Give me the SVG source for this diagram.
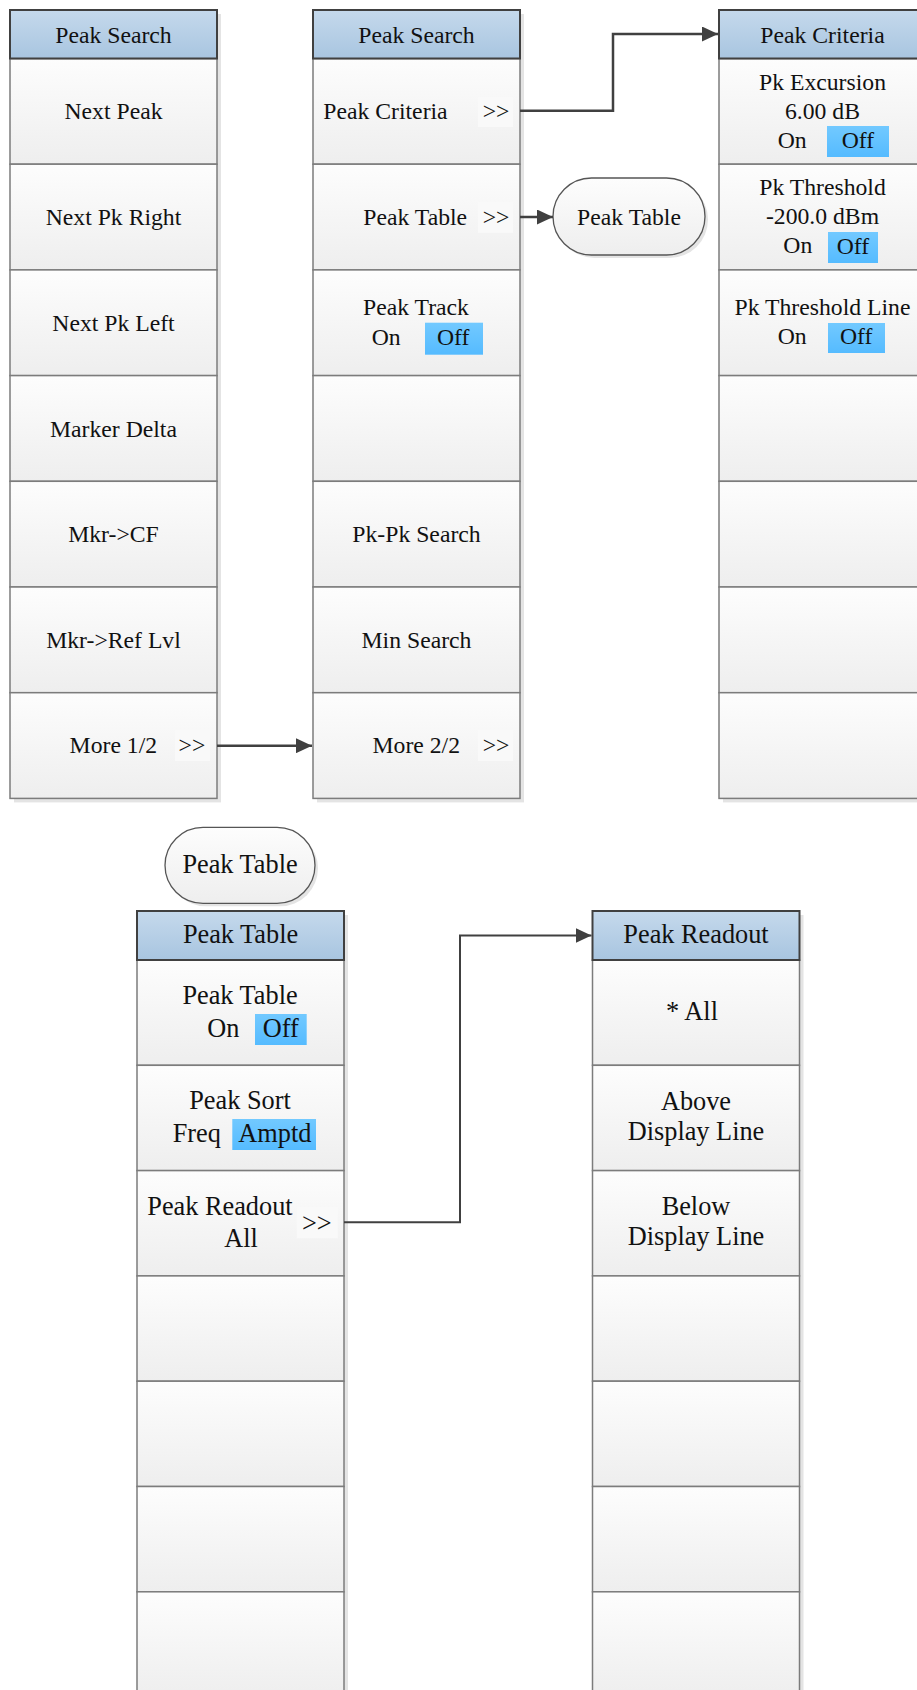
<svg xmlns="http://www.w3.org/2000/svg" width="917" height="1690" viewBox="0 0 917 1690">
<defs>
<linearGradient id="gCell" x1="0" y1="0" x2="0" y2="1"><stop offset="0" stop-color="#fdfdfd"/><stop offset="1" stop-color="#eeeeee"/></linearGradient>
<linearGradient id="gHead" x1="0" y1="0" x2="0" y2="1"><stop offset="0" stop-color="#c5d9ec"/><stop offset="1" stop-color="#a8c5e0"/></linearGradient>
<linearGradient id="gSel" x1="0" y1="0" x2="0" y2="1"><stop offset="0" stop-color="#72c9ff"/><stop offset="1" stop-color="#55bbff"/></linearGradient>
<marker id="arr" viewBox="0 0 16 15" refX="16" refY="7.5" markerWidth="16" markerHeight="15" markerUnits="userSpaceOnUse" orient="auto"><path d="M0,0 L16,7.5 L0,15 Z" fill="#404040"/></marker>
</defs>
<style>
.cell{fill:url(#gCell);stroke:#7c7c7c;stroke-width:1.5}
.head{fill:url(#gHead);stroke:#404040;stroke-width:2}
.shadow{fill:#e4e4e4}
.sel{fill:url(#gSel)}
.btn{fill:#f9f9f9}
.pill{fill:url(#gCell);stroke:#555;stroke-width:1.3}
text{font-family:"Liberation Serif","Times New Roman",serif;fill:#111}
.t{font-size:23.7px}
.b{font-size:26.3px}
.m{text-anchor:middle}
.conn{fill:none;stroke:#404040;stroke-width:2.5;marker-end:url(#arr)}
.conn2{fill:none;stroke:#404040;stroke-width:2;marker-end:url(#arr)}
</style>
<rect width="917" height="1690" fill="#ffffff"/>

<!-- Column A: Peak Search (1/2) -->
<g id="colA">
<rect class="shadow" x="14" y="14" width="207" height="788.4"/>
<rect class="cell" x="10" y="58.5" width="207" height="105.7"/>
<rect class="cell" x="10" y="164.2" width="207" height="105.7"/>
<rect class="cell" x="10" y="269.9" width="207" height="105.7"/>
<rect class="cell" x="10" y="375.6" width="207" height="105.7"/>
<rect class="cell" x="10" y="481.3" width="207" height="105.7"/>
<rect class="cell" x="10" y="587" width="207" height="105.7"/>
<rect class="cell" x="10" y="692.7" width="207" height="105.7"/>
<rect class="head" x="10" y="10" width="207" height="48.5"/>
<text class="t m" x="113.5" y="42.7">Peak Search</text>
<text class="t m" x="113.5" y="119">Next Peak</text>
<text class="t m" x="113.5" y="225">Next Pk Right</text>
<text class="t m" x="113.5" y="330.7">Next Pk Left</text>
<text class="t m" x="113.5" y="436.5">Marker Delta</text>
<text class="t m" x="113.5" y="542">Mkr-&gt;CF</text>
<text class="t m" x="113.5" y="648">Mkr-&gt;Ref Lvl</text>
<text class="t" x="69.6" y="753.3">More 1/2</text>
<rect class="btn" x="175" y="730" width="35" height="31"/>
<text class="t" x="178.6" y="753.3">&gt;&gt;</text>
</g>

<!-- Column B: Peak Search (2/2) -->
<g id="colB">
<rect class="shadow" x="317" y="14" width="207" height="788.4"/>
<rect class="cell" x="313" y="58.5" width="207" height="105.7"/>
<rect class="cell" x="313" y="164.2" width="207" height="105.7"/>
<rect class="cell" x="313" y="269.9" width="207" height="105.7"/>
<rect class="cell" x="313" y="375.6" width="207" height="105.7"/>
<rect class="cell" x="313" y="481.3" width="207" height="105.7"/>
<rect class="cell" x="313" y="587" width="207" height="105.7"/>
<rect class="cell" x="313" y="692.7" width="207" height="105.7"/>
<rect class="head" x="313" y="10" width="207" height="48.5"/>
<text class="t m" x="416.5" y="42.7">Peak Search</text>
<text class="t" x="323.3" y="119">Peak Criteria</text>
<rect class="btn" x="478" y="97" width="35" height="30"/>
<text class="t" x="482.7" y="119">&gt;&gt;</text>
<text class="t" x="363.3" y="225">Peak Table</text>
<rect class="btn" x="478" y="201.7" width="35" height="31"/>
<text class="t" x="482.7" y="225">&gt;&gt;</text>
<text class="t m" x="416" y="315">Peak Track</text>
<text class="t" x="371.7" y="345">On</text>
<rect class="sel" x="425" y="322.7" width="58" height="32"/>
<text class="t" x="437" y="345">Off</text>
<text class="t m" x="416.5" y="542">Pk-Pk Search</text>
<text class="t m" x="416.5" y="648">Min Search</text>
<text class="t" x="372.5" y="753.3">More 2/2</text>
<rect class="btn" x="478" y="730" width="35" height="31"/>
<text class="t" x="482.7" y="753.3">&gt;&gt;</text>
</g>

<!-- Stadium: Peak Table (top) -->
<g id="pillTop">
<rect class="shadow" x="556" y="181" width="152" height="77" rx="38.5"/>
<rect class="pill" x="553" y="178" width="152" height="77" rx="38.5"/>
<text class="t m" x="629" y="225">Peak Table</text>
</g>

<!-- Column C: Peak Criteria -->
<g id="colC">
<rect class="shadow" x="723" y="14" width="207" height="788.4"/>
<rect class="cell" x="719" y="58.5" width="207" height="105.7"/>
<rect class="cell" x="719" y="164.2" width="207" height="105.7"/>
<rect class="cell" x="719" y="269.9" width="207" height="105.7"/>
<rect class="cell" x="719" y="375.6" width="207" height="105.7"/>
<rect class="cell" x="719" y="481.3" width="207" height="105.7"/>
<rect class="cell" x="719" y="587" width="207" height="105.7"/>
<rect class="cell" x="719" y="692.7" width="207" height="105.7"/>
<rect class="head" x="719" y="10" width="207" height="48.5"/>
<text class="t m" x="822.5" y="42.7">Peak Criteria</text>
<text class="t m" x="822.5" y="89.5">Pk Excursion</text>
<text class="t m" x="822.5" y="119">6.00 dB</text>
<text class="t" x="777.7" y="148">On</text>
<rect class="sel" x="827" y="126" width="62" height="31"/>
<text class="t" x="841.7" y="148">Off</text>
<text class="t m" x="822.5" y="195">Pk Threshold</text>
<text class="t m" x="822.5" y="224">-200.0 dBm</text>
<text class="t" x="783.3" y="253">On</text>
<rect class="sel" x="828" y="232" width="50" height="31"/>
<text class="t" x="836.7" y="254">Off</text>
<text class="t m" x="822.5" y="315">Pk Threshold Line</text>
<text class="t" x="777.7" y="344.3">On</text>
<rect class="sel" x="828" y="323" width="57" height="30"/>
<text class="t" x="840" y="344.3">Off</text>
</g>

<!-- Stadium: Peak Table (bottom) -->
<g id="pillBottom">
<rect class="shadow" x="168" y="830.3" width="150" height="76" rx="38"/>
<rect class="pill" x="165" y="827.3" width="150" height="76" rx="38"/>
<text class="b m" x="240" y="873.3">Peak Table</text>
</g>

<!-- Column D: Peak Table -->
<g id="colD">
<rect class="shadow" x="141" y="915" width="207" height="790"/>
<rect class="cell" x="137" y="960" width="207" height="105.3"/>
<rect class="cell" x="137" y="1065.3" width="207" height="105.3"/>
<rect class="cell" x="137" y="1170.6" width="207" height="105.3"/>
<rect class="cell" x="137" y="1275.9" width="207" height="105.3"/>
<rect class="cell" x="137" y="1381.2" width="207" height="105.3"/>
<rect class="cell" x="137" y="1486.5" width="207" height="105.3"/>
<rect class="cell" x="137" y="1591.8" width="207" height="105.3"/>
<rect class="head" x="137" y="911" width="207" height="49"/>
<text class="b m" x="240.5" y="943.3">Peak Table</text>
<text class="b m" x="240" y="1004.3">Peak Table</text>
<text class="b" x="207.3" y="1036.7">On</text>
<rect class="sel" x="255" y="1014" width="51.7" height="31"/>
<text class="b" x="262.7" y="1036.7">Off</text>
<text class="b m" x="240" y="1109.3">Peak Sort</text>
<text class="b" x="172.7" y="1141.7">Freq</text>
<rect class="sel" x="232.3" y="1119" width="83.7" height="31"/>
<text class="b" x="238.3" y="1141.7">Amptd</text>
<text class="b" x="147.3" y="1215">Peak Readout</text>
<text class="b" x="224.3" y="1246.7">All</text>
<rect class="btn" x="296.7" y="1206.7" width="41" height="31.6"/>
<text class="b" x="302" y="1231.7">&gt;&gt;</text>
</g>

<!-- Column E: Peak Readout -->
<g id="colE">
<rect class="shadow" x="596.5" y="915" width="207" height="790"/>
<rect class="cell" x="592.5" y="960" width="207" height="105.3"/>
<rect class="cell" x="592.5" y="1065.3" width="207" height="105.3"/>
<rect class="cell" x="592.5" y="1170.6" width="207" height="105.3"/>
<rect class="cell" x="592.5" y="1275.9" width="207" height="105.3"/>
<rect class="cell" x="592.5" y="1381.2" width="207" height="105.3"/>
<rect class="cell" x="592.5" y="1486.5" width="207" height="105.3"/>
<rect class="cell" x="592.5" y="1591.8" width="207" height="105.3"/>
<rect class="head" x="592.5" y="911" width="207" height="49"/>
<text class="b m" x="696" y="943.3">Peak Readout</text>
<text class="b m" x="692" y="1020">* All</text>
<text class="b m" x="696" y="1110">Above</text>
<text class="b m" x="696" y="1140">Display Line</text>
<text class="b m" x="696" y="1215">Below</text>
<text class="b m" x="696" y="1245">Display Line</text>
</g>

<!-- Connectors -->
<g id="connectors">
<path class="conn" d="M520,110.7 H613 V34 H718"/>
<path class="conn" d="M520,217 H553"/>
<path class="conn" d="M217,745.7 H312"/>
<path class="conn2" d="M344,1222.3 H460 V935.5 H591.5"/>
</g>
</svg>
